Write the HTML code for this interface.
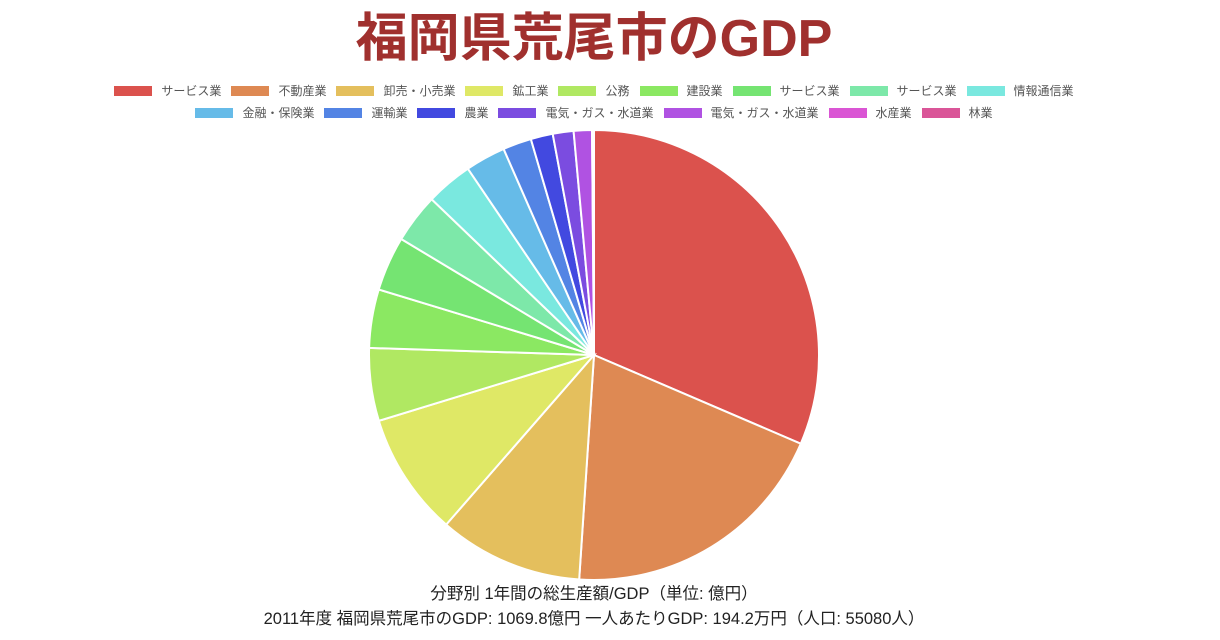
<!DOCTYPE html>
<html><head><meta charset="utf-8"><style>
body{margin:0;width:1220px;height:640px;background:#fff;font-family:"Liberation Sans","Noto Sans CJK JP",sans-serif;overflow:hidden;position:relative}
#title{position:absolute;top:4px;left:0;width:1188px;text-align:center;font-size:52px;font-weight:bold;color:#a0302e;line-height:70px}
.lrow{position:absolute;left:0;width:1188px;display:flex;justify-content:center;font-size:12px;color:#555}
.li{display:flex;align-items:center;margin:0 5px}
.sw{width:38px;height:10px;margin-right:9px}
#cap{position:absolute;top:582px;left:0;width:1188px;text-align:center;font-size:16.5px;color:#222;line-height:25px}
</style></head><body>
<div id="title">福岡県荒尾市のGDP</div>
<div class="lrow" id="r1" style="top:82px"></div>
<div class="lrow" id="r2" style="top:104px"></div>
<svg id="pie" width="1220" height="640" style="position:absolute;left:0;top:0"></svg>
<div id="cap">分野別 1年間の総生産額/GDP（単位: 億円）<br>2011年度 福岡県荒尾市のGDP: 1069.8億円 一人あたりGDP: 194.2万円（人口: 55080人）</div>
<script>
const labels=["サービス業","不動産業","卸売・小売業","鉱工業","公務","建設業","サービス業","サービス業","情報通信業","金融・保険業","運輸業","農業","電気・ガス・水道業","電気・ガス・水道業","水産業","林業"];
const values=[337,210,111,95,56,45,42,38,36,31,22,17,16,14,1,0.5];
const colors=["#db524d","#de8953","#e4bf5d","#dfe866","#b0e862","#8be862","#75e472","#7de8a9","#7ae8df","#66bbe8","#5384e4","#4249e0","#7b4ce0","#b052e2","#da55d4","#da5598"];
const ns="http://www.w3.org/2000/svg";
labels.forEach((l,i)=>{
 const row=document.getElementById(i<9?'r1':'r2');
 const d=document.createElement('div');d.className='li';
 
 
 d.innerHTML='<span class="sw" style="background:'+colors[i]+'"></span>'+l;
 row.appendChild(d);
});
const svg=document.getElementById('pie');
const cx=594,cy=355,r=225;
const total=values.reduce((a,b)=>a+b,0);
let a0=0;
values.forEach((v,i)=>{
 const a1=a0+v/total*2*Math.PI;
 const x0=cx+r*Math.sin(a0),y0=cy-r*Math.cos(a0),x1=cx+r*Math.sin(a1),y1=cy-r*Math.cos(a1);
 const p=document.createElementNS(ns,'path');
 p.setAttribute('d',`M${cx},${cy}L${x0},${y0}A${r},${r} 0 ${a1-a0>Math.PI?1:0} 1 ${x1},${y1}Z`);
 p.setAttribute('fill',colors[i]);p.setAttribute('stroke','#fff');p.setAttribute('stroke-width','2');
 
 
 svg.appendChild(p);a0=a1;
});
</script>
</body></html>
